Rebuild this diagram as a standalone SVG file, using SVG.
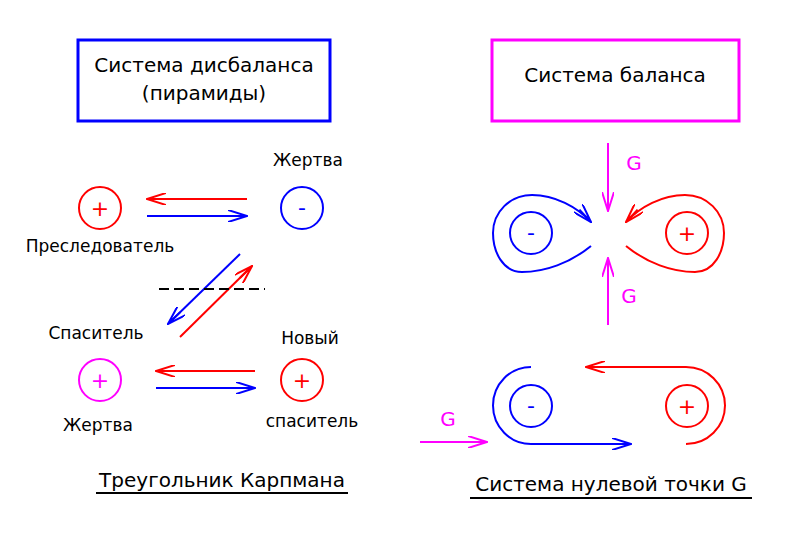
<svg xmlns="http://www.w3.org/2000/svg" width="786" height="549" viewBox="0 0 786 549">
<style>
text{font-family:"DejaVu Sans","Liberation Sans",sans-serif;font-size:17px;text-anchor:middle;fill:#000}
.t{font-size:20px}
.r{stroke:#f00;fill:none;stroke-width:2}
.b{stroke:#00f;fill:none;stroke-width:2}
.m{stroke:#f0f;fill:none;stroke-width:2}
.s{font-size:22px}
</style>
<defs>
<marker id="ar" viewBox="0 0 20 12" refX="19" refY="6" markerWidth="20" markerHeight="12" markerUnits="userSpaceOnUse" orient="auto"><path d="M0,0 L19,6 L0,12 M2,6 L19,6" fill="none" stroke="#f00" stroke-width="2"/></marker>
<marker id="ab" viewBox="0 0 20 12" refX="19" refY="6" markerWidth="20" markerHeight="12" markerUnits="userSpaceOnUse" orient="auto"><path d="M0,0 L19,6 L0,12 M2,6 L19,6" fill="none" stroke="#00f" stroke-width="2"/></marker>
<marker id="am" viewBox="0 0 20 12" refX="19" refY="6" markerWidth="20" markerHeight="12" markerUnits="userSpaceOnUse" orient="auto"><path d="M0,0 L19,6 L0,12 M2,6 L19,6" fill="none" stroke="#f0f" stroke-width="2"/></marker>
</defs>
<rect width="786" height="549" fill="#fff"/>
<g id="box1"><rect x="78" y="40" width="252" height="81" fill="none" stroke="#00f" stroke-width="3"/><text x="204" y="72" class="t">Система дисбаланса</text><text x="204" y="100" class="t">(пирамиды)</text></g>
<g id="box2"><rect x="492" y="40" width="247" height="81" fill="none" stroke="#f0f" stroke-width="3"/><text x="615" y="82" class="t">Система баланса</text></g>
<g id="n1"><circle cx="100" cy="208" r="21" class="r"/><text x="100" y="216" class="s" fill="#f00" style="fill:#f00">+</text><text x="100" y="252">Преследователь</text></g>
<g id="n2"><circle cx="302" cy="208" r="21" class="b"/><text x="302" y="215" class="s" style="fill:#00f">-</text><text x="308" y="166">Жертва</text></g>
<g id="n3"><circle cx="100" cy="380" r="21" class="m"/><text x="100" y="388" class="s" style="fill:#f0f">+</text><text x="96" y="339">Спаситель</text><text x="98" y="431">Жертва</text></g>
<g id="n4"><circle cx="302" cy="380" r="21" class="r"/><text x="302" y="388" class="s" style="fill:#f00">+</text><text x="310" y="344">Новый</text><text x="312" y="427">спаситель</text></g>
<g id="r1"><circle cx="531" cy="233" r="21" class="b"/><text x="531" y="240" class="s" style="fill:#00f">-</text></g>
<g id="r2"><circle cx="687" cy="233" r="21" class="r"/><text x="687" y="241" class="s" style="fill:#f00">+</text></g>
<g id="r3"><circle cx="531" cy="406" r="21" class="b"/><text x="531" y="413" class="s" style="fill:#00f">-</text></g>
<g id="r4"><circle cx="687" cy="406" r="21" class="r"/><text x="687" y="414" class="s" style="fill:#f00">+</text></g>
<g id="connectors">
<line x1="247" y1="199" x2="147" y2="199" class="r" marker-end="url(#ar)"/>
<line x1="147" y1="216" x2="247" y2="216" class="b" marker-end="url(#ab)"/>
<line x1="240" y1="254" x2="168" y2="324" class="b" marker-end="url(#ab)"/>
<line x1="180" y1="337" x2="252" y2="266" class="r" marker-end="url(#ar)"/>
<line x1="159" y1="289" x2="265" y2="289" stroke="#000" stroke-width="2" stroke-dasharray="10,5"/>
<line x1="255" y1="371" x2="156" y2="371" class="r" marker-end="url(#ar)"/>
<line x1="156" y1="388" x2="255" y2="388" class="b" marker-end="url(#ab)"/>
<path d="M591,246 C570,263 545,272 522,272 C503,272 493,252 493,233 C493,212 510,195 532,195 C555,195 577,207 591,222" class="b" marker-end="url(#ab)"/>
<path d="M626,246 C647,263 672,272 695,272 C714,272 724,252 724,233 C724,212 707,195 685,195 C662,195 640,207 626,222" class="r" marker-end="url(#ar)"/>
<line x1="608" y1="143" x2="608" y2="211" class="m" marker-end="url(#am)"/>
<line x1="608" y1="325" x2="608" y2="258" class="m" marker-end="url(#am)"/>
<path d="M531,367 A38,38.5 0 0 0 531,444 L631,444" class="b" marker-end="url(#ab)"/>
<path d="M686,444 A39,38.5 0 0 0 686,367 L586,367" class="r" marker-end="url(#ar)"/>
<line x1="420" y1="442" x2="487" y2="442" class="m" marker-end="url(#am)"/>
</g>
<g id="labels">
<text x="634" y="170" class="t" style="fill:#f0f">G</text>
<text x="629" y="303" class="t" style="fill:#f0f">G</text>
<text x="448" y="426" class="t" style="fill:#f0f">G</text>
<text x="222" y="487" class="t">Треугольник Карпмана</text>
<line x1="96" y1="493" x2="348" y2="493" stroke="#000" stroke-width="2"/>
<text x="611" y="491" class="t">Система нулевой точки G</text>
<line x1="470" y1="498" x2="752" y2="498" stroke="#000" stroke-width="2"/>
</g>
</svg>
